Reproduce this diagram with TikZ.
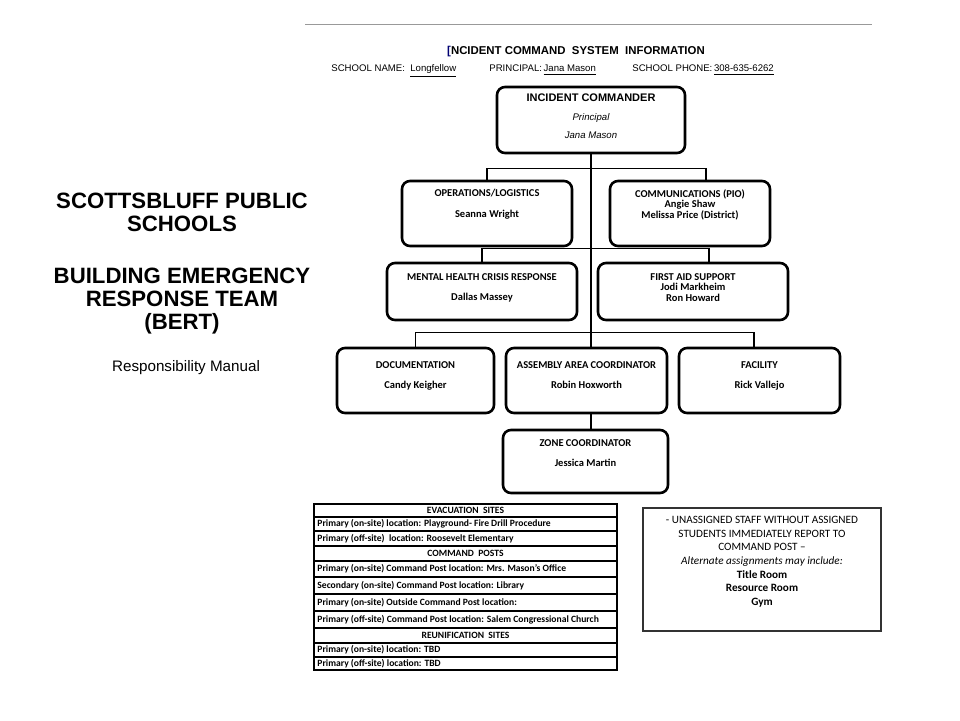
\documentclass[tikz,border=0pt]{standalone}
\usepackage{fontspec}
\setmainfont{Liberation Sans}
\newfontfamily\calib[Ligatures=TeX]{Carlito}
\usetikzlibrary{positioning}

\tikzset{
  rolebox/.style={draw, line width=1.3pt, rounded corners=4pt, inner sep=0pt},
  roletext/.style={anchor=north, align=center, inner sep=0pt,
    font=\calib\bfseries\fontsize{5.25}{5.3}\selectfont},
  link/.style={line width=0.75pt},
  cell/.style={anchor=west, inner sep=0pt, font=\calib\bfseries\fontsize{4.8}{5}\selectfont},
  cellhead/.style={inner sep=0pt, font=\calib\bfseries\fontsize{4.8}{5}\selectfont},
}

\begin{document}
\begin{tikzpicture}[x=0.5pt,y=-0.5pt]
\fill[white] (0,0) rectangle (960,720);
\useasboundingbox (0,0) rectangle (960,720);

% left title
\node[anchor=north, align=center, inner sep=0pt,
  font=\bfseries\fontsize{11.1}{11.5}\selectfont] (school) at (182,193)
  {SCOTTSBLUFF PUBLIC\\SCHOOLS\\[14.5pt]BUILDING EMERGENCY\\RESPONSE TEAM\\(BERT)};
\node[font=\fontsize{7.6}{9}\selectfont] (manual) at (186,368) {Responsibility Manual};

% header of the sheet
\draw[black!40, line width=0.5pt] (305,24) -- (872,24);
\node[font=\bfseries\fontsize{5.7}{7}\selectfont] (ics) at (576,52)
  {{\color{blue!45!black}[}NCIDENT COMMAND\ \ SYSTEM\ \ INFORMATION};
\node[anchor=base west, inner sep=0pt, font=\fontsize{4.8}{6}\selectfont] (sname) at (331,71.5)
  {SCHOOL NAME:\ \ \underline{Longfellow}};
\node[anchor=base west, inner sep=0pt, font=\fontsize{4.8}{6}\selectfont] (sprinc) at (489,71.5)
  {PRINCIPAL:\,\underline{Jana Mason}};
\node[anchor=base west, inner sep=0pt, font=\fontsize{4.8}{6}\selectfont] (sphone) at (632,71.5)
  {SCHOOL PHONE:\,\underline{308-635-6262}};

% boxes
\node[rolebox, minimum width=94pt, minimum height=33pt] (ic) at (591,120) {};
\node[rolebox, minimum width=85pt, minimum height=32.5pt] (ops) at (487,213.5) {};
\node[rolebox, minimum width=80pt, minimum height=32.5pt] (comm) at (690,213.5) {};
\node[rolebox, minimum width=95pt, minimum height=28.5pt] (mhc) at (482,291.5) {};
\node[rolebox, minimum width=95pt, minimum height=28.5pt] (aid) at (693,291.5) {};
\node[rolebox, minimum width=78.5pt, minimum height=32.5pt] (doc) at (415.5,380.5) {};
\node[rolebox, minimum width=80.5pt, minimum height=32.5pt] (asm) at (586.5,380.5) {};
\node[rolebox, minimum width=80.5pt, minimum height=32.5pt] (fac) at (759.5,380.5) {};
\node[rolebox, minimum width=82.5pt, minimum height=31.5pt] (zone) at (585.5,461.5) {};

% box texts
\node[roletext, font=\bfseries\fontsize{5.5}{9.3}\selectfont, below=4pt of ic.north] (ictxt)
  {INCIDENT COMMANDER\\{\mdseries\itshape\fontsize{4.8}{9.3}\selectfont Principal}\\
   {\mdseries\itshape\fontsize{4.8}{9.3}\selectfont Jana\ Mason}};
\node[roletext, below=4.7pt of ops.north] (opstxt) {OPERATIONS/LOGISTICS\\[5pt]Seanna Wright};
\node[roletext, below=4.7pt of comm.north] (commtxt)
  {COMMUNICATIONS (PIO)\\Angie Shaw\\Melissa Price (District)};
\node[roletext, below=5.7pt of mhc.north] (mhctxt) {MENTAL HEALTH CRISIS RESPONSE\\[5pt]Dallas Massey};
\node[roletext, below=5.7pt of aid.north] (aidtxt) {FIRST AID SUPPORT\\Jodi Markheim\\Ron Howard};
\node[roletext, below=7.2pt of doc.north] (doctxt) {DOCUMENTATION\\[5pt]Candy Keigher};
\node[roletext, below=7.2pt of asm.north] (asmtxt) {ASSEMBLY AREA COORDINATOR\\[5pt]Robin Hoxworth};
\node[roletext, below=7.2pt of fac.north] (factxt) {FACILITY\\[5pt]Rick Vallejo};
\node[roletext, below=5.2pt of zone.north] (zonetxt) {ZONE COORDINATOR\\[5pt]Jessica Martin};

% connectors
\draw[link] (ic.south) -- (ic.south |- asm.north);
\draw[link] (ops.north) -- ++(0,-11) -| ([xshift=8pt]comm.north);
\draw[link] (mhc.north) -- ++(0,-13) -| ([xshift=8pt]aid.north);
\draw[link] (doc.north) -- ++(0,-14) -| ([xshift=-2.75pt]fac.north);
\draw[link] (ic.south |- asm.south) -- (ic.south |- zone.north);

% sites table
\draw[line width=0.8pt] (314,504) rectangle (617,670);
\foreach \y in {517,531,546,561,577,594,611,628,643,657}
  \draw[line width=0.6pt] (314,\y) -- (617,\y);
\foreach \y/\t in {510.5/EVACUATION\ \ SITES, 553.5/COMMAND\ \ POSTS, 635.5/REUNIFICATION\ \ SITES}
  \node[cellhead] at (465.5,\y) {\t};
\foreach \y/\t in {524/Primary (on-site) location: Playground- Fire Drill Procedure,
    538.5/Primary (off-site)\ \ location: Roosevelt Elementary,
    569/Primary (on-site) Command Post location: Mrs. Mason’s Office,
    585.5/Secondary (on-site) Command Post location: Library,
    602.5/Primary (on-site) Outside Command Post location:,
    619.5/Primary (off-site) Command Post location: Salem Congressional Church,
    650/Primary (on-site) location: TBD,
    663.5/Primary (off-site) location: TBD}
  \node[cell] at (317,\y) {\t};

% note box
\node[draw=black!80, line width=0.9pt, minimum width=119pt, minimum height=61.5pt, inner sep=0pt]
  (note) at (762,569.5) {};
\node[anchor=north, align=center, inner sep=0pt, font=\calib\fontsize{5.6}{6.85}\selectfont,
  below=4.3pt of note.north] (notetxt)
  {- UNASSIGNED STAFF WITHOUT ASSIGNED\\STUDENTS IMMEDIATELY REPORT TO\\COMMAND POST –\\
   {\itshape Alternate assignments may include:}\\{\bfseries Title Room}\\
   {\bfseries Resource Room}\\{\bfseries Gym}};
\end{tikzpicture}
\end{document}
